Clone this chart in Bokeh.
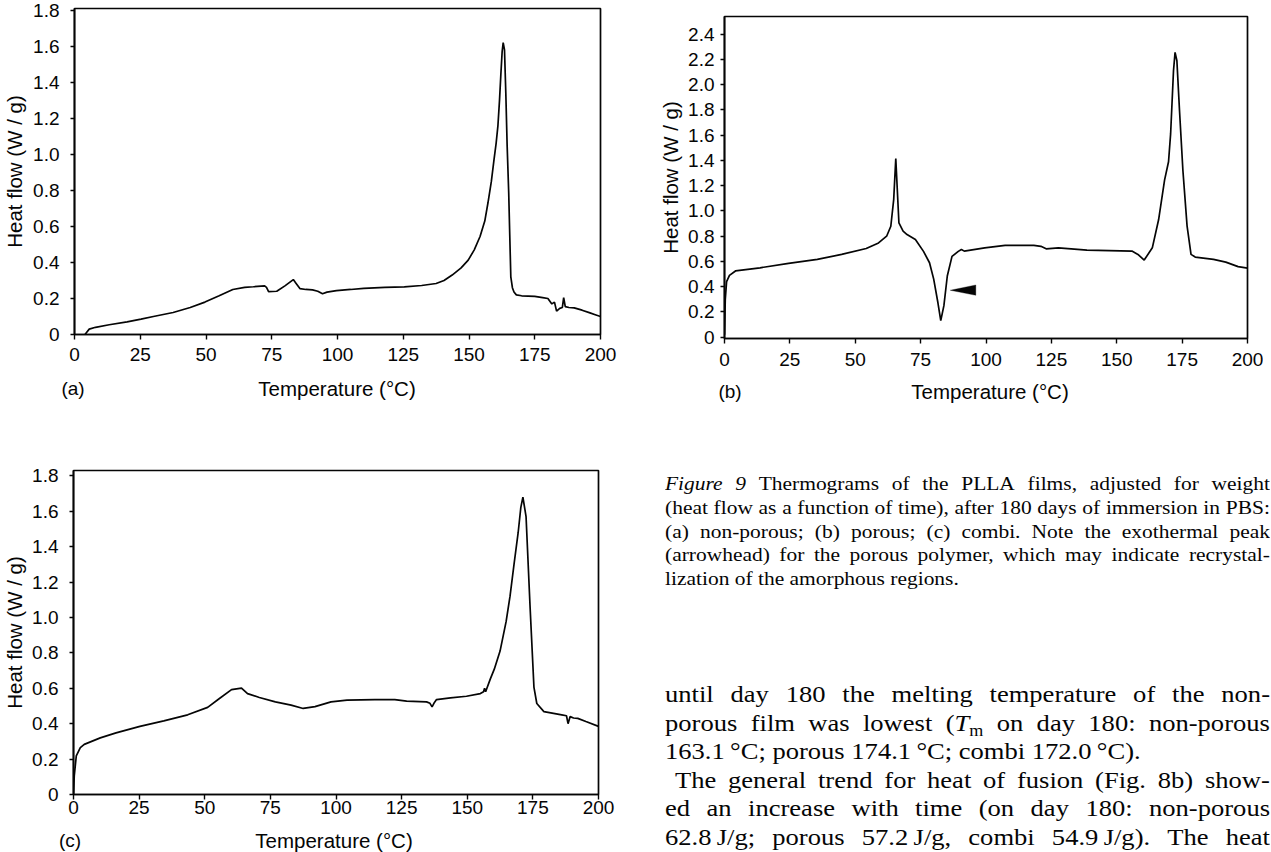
from bokeh.plotting import figure
from bokeh.models import FixedTicker, PolyAnnotation, Div, Range1d
from bokeh.layouts import column, row
from bokeh.embed import file_html
from bokeh.resources import INLINE

# ---------------- data ----------------
temp_ticks = [0, 25, 50, 75, 100, 125, 150, 175, 200]
flow_ticks_ac = [0, 0.2, 0.4, 0.6, 0.8, 1.0, 1.2, 1.4, 1.6, 1.8]
flow_labels_ac = ["0", "0.2", "0.4", "0.6", "0.8", "1.0", "1.2", "1.4", "1.6", "1.8"]
flow_ticks_b = [0, 0.2, 0.4, 0.6, 0.8, 1.0, 1.2, 1.4, 1.6, 1.8, 2.0, 2.2, 2.4]
flow_labels_b = ["0", "0.2", "0.4", "0.6", "0.8", "1.0", "1.2", "1.4", "1.6", "1.8", "2.0", "2.2", "2.4"]

# (a) non-porous
temp_a = [4.0, 4.5, 5.6, 8, 13.2, 20, 25.3, 30, 37.5, 44, 49.6, 55, 60.2, 64.7, 68, 72.3, 73.0,
          73.8, 76.9, 80, 83.2, 84.2, 85.7, 88, 90.5, 92.5, 94.3, 96, 99.6, 105, 110, 118, 125.4,
          132, 137.5, 140.5, 143.6, 147, 149.7, 152, 154.2, 156, 157.2, 158.5, 159.5, 160.3, 161,
          161.6, 162.1, 162.6, 163.0, 163.5, 164, 164.5, 165.1, 165.5, 165.9, 166.5, 167.1, 168,
          170, 175, 178, 180, 181.5, 182.5, 183.3, 184.5, 185.5, 186.0, 186.6, 188, 190, 193, 196,
          198, 200]
flow_a = [0, 0.01, 0.03, 0.04, 0.054, 0.07, 0.085, 0.1, 0.122, 0.15, 0.18, 0.215, 0.25, 0.262,
          0.265, 0.27, 0.262, 0.238, 0.24, 0.27, 0.305, 0.285, 0.255, 0.25, 0.248, 0.24, 0.226,
          0.235, 0.244, 0.25, 0.256, 0.262, 0.264, 0.272, 0.283, 0.3, 0.33, 0.37, 0.413, 0.47,
          0.544, 0.63, 0.73, 0.85, 0.97, 1.06, 1.16, 1.3, 1.44, 1.57, 1.62, 1.58, 1.34, 1.05,
          0.786, 0.55, 0.32, 0.26, 0.236, 0.22, 0.215, 0.212, 0.205, 0.2, 0.17, 0.18, 0.13, 0.145,
          0.15, 0.205, 0.155, 0.15, 0.148, 0.135, 0.12, 0.11, 0.1]

# (b) porous
temp_b = [0, 0.3, 0.8, 1.9, 4.2, 13.6, 24.5, 35.5, 44.8, 54.2, 58.9, 62, 63.6, 64.7, 65.5, 66.7,
          68.3, 69.8, 73, 76.1, 78.4, 80, 81.6, 82.7, 83.9, 85.2, 87, 89.4, 90.6, 91.7, 99.5,
          107.3, 118.3, 121, 123, 127.7, 138.6, 155.8, 158.1, 160.5, 163.6, 166, 168.3, 169.8,
          170.6, 171.7, 172.3, 173, 174, 175.3, 176.9, 178.4, 180, 187, 191.7, 196.4, 200]
flow_b = [0.02, 0.3, 0.44, 0.49, 0.525, 0.55, 0.585, 0.616, 0.656, 0.703, 0.747, 0.8, 0.879, 1.09,
          1.416, 0.905, 0.84, 0.813, 0.774, 0.68, 0.59, 0.46, 0.275, 0.131, 0.25, 0.485, 0.64,
          0.68, 0.695, 0.682, 0.708, 0.727, 0.727, 0.72, 0.7, 0.708, 0.69, 0.682, 0.656, 0.611,
          0.708, 0.93, 1.246, 1.39, 1.61, 2.11, 2.256, 2.19, 1.795, 1.32, 0.88, 0.656, 0.635,
          0.616, 0.595, 0.559, 0.548]

# (c) combi
temp_c = [0, 0.3, 1.06, 2.6, 4.1, 10.2, 16.2, 25.3, 34.4, 43.5, 51.1, 55.6, 60.2, 64, 66.3, 70.8,
          76.9, 82.9, 87.5, 92, 98.1, 104.2, 114.8, 122.4, 126.9, 134.5, 135.8, 136.6, 137.5,
          138.3, 143.6, 149.7, 155, 156.2, 156.6, 157, 158.8, 160.3, 162.5, 164.8, 166.3, 167.9,
          169.4, 170.4, 171.2, 172.4, 173.9, 175.4, 176.5, 179.2, 186, 187.8, 188.4, 189.2, 190.5,
          192.1, 195.2, 200]
flow_c = [0.005, 0.107, 0.218, 0.265, 0.283, 0.32, 0.348, 0.385, 0.416, 0.45, 0.492, 0.542, 0.592,
          0.601, 0.57, 0.548, 0.523, 0.505, 0.486, 0.496, 0.523, 0.533, 0.536, 0.536, 0.527, 0.523,
          0.515, 0.495, 0.52, 0.536, 0.546, 0.555, 0.57, 0.58, 0.6, 0.58, 0.653, 0.708, 0.81, 0.976,
          1.12, 1.31, 1.48, 1.62, 1.68, 1.57, 1.07, 0.607, 0.514, 0.468, 0.45, 0.445, 0.4, 0.44,
          0.432, 0.43, 0.412, 0.385]

# arrowhead marking the exothermal peak in (b)
arrow_xs = [86.3, 96.1, 96.1]
arrow_ys = [0.372, 0.414, 0.332]

panel_tags = ["(a)", "(b)", "(c)"]
x_title = "Temperature (°C)"
y_title = "Heat flow (W / g)"

caption_lines = [
    ["<i>Figure</i>", "<i>9</i>", "Thermograms", "of", "the", "PLLA", "films,", "adjusted", "for", "weight"],
    ["(heat", "flow", "as", "a", "function", "of", "time),", "after", "180", "days", "of", "immersion", "in", "PBS:"],
    ["(a)", "non-porous;", "(b)", "porous;", "(c)", "combi.", "Note", "the", "exothermal", "peak"],
    ["(arrowhead)", "for", "the", "porous", "polymer,", "which", "may", "indicate", "recrystal-"],
    ["lization", "of", "the", "amorphous", "regions."],
]
caption_justify = [True, True, True, True, False]

body_lines = [
    ["until", "day", "180", "the", "melting", "temperature", "of", "the", "non-"],
    ["porous", "film", "was", "lowest", "(<i>T</i><sub style='font-size:0.68em;vertical-align:-0.3em'>m</sub>",
     "on", "day", "180:", "non-porous"],
    ["163.1&#8201;°C;", "porous", "174.1&#8201;°C;", "combi", "172.0&#8201;°C)."],
    ["The", "general", "trend", "for", "heat", "of", "fusion", "(Fig.", "8b)", "show-"],
    ["ed", "an", "increase", "with", "time", "(on", "day", "180:", "non-porous"],
    ["62.8&#8201;J/g;", "porous", "57.2&#8201;J/g,", "combi", "54.9&#8201;J/g).", "The", "heat"],
]
body_justify = [True, True, False, True, True, True]
body_indent = [0, 0, 0, 10, 0, 0]

# ---------------- styling helpers ----------------
SANS = "Liberation Sans"
INK = "#050505"


def make_panel(width, height, b_left, b_right, b_top, b_bottom, y_start, y_end,
               yticks, ylabels, ylab_standoff, ytitle_standoff, xlab_standoff):
    p = figure(width=width, height=height, x_range=Range1d(0, 200), y_range=Range1d(y_start, y_end),
               output_backend="svg", toolbar_location=None, title=None,
               min_border_left=b_left, min_border_right=b_right,
               min_border_top=b_top, min_border_bottom=b_bottom)
    p.xgrid.visible = False
    p.ygrid.visible = False
    p.background_fill_color = "white"
    p.border_fill_color = "white"
    p.outline_line_color = INK
    p.outline_line_width = 1.7
    p.outline_line_alpha = 1.0

    p.xaxis.ticker = FixedTicker(ticks=temp_ticks)
    p.yaxis.ticker = FixedTicker(ticks=yticks)
    p.yaxis.major_label_overrides = {t: l for t, l in zip(yticks, ylabels)}
    for ax in (p.xaxis[0], p.yaxis[0]):
        ax.axis_line_color = INK
        ax.axis_line_width = 1.7
        ax.major_tick_line_color = INK
        ax.major_tick_line_width = 1.4
        ax.major_tick_in = 0
        ax.minor_tick_line_color = None
        ax.major_label_text_font = SANS
        ax.major_label_text_font_size = "19px"
        ax.major_label_text_color = INK
        ax.axis_label_text_font = SANS
        ax.axis_label_text_font_size = "20.5px"
        ax.axis_label_text_font_style = "normal"
        ax.axis_label_text_color = INK
    p.xaxis.major_tick_out = 5
    p.yaxis.major_tick_out = 4
    p.yaxis.axis_label = y_title
    p.yaxis.major_label_standoff = ylab_standoff
    p.yaxis.axis_label_standoff = ytitle_standoff
    p.xaxis.major_label_standoff = xlab_standoff
    return p


def title_row(width, height, tag_text, tag_x, title_x, cy):
    """HTML strip under a panel: panel tag at the left, x-axis title centred under the frame."""
    html = (f'<div style="position:relative;width:{width}px;height:{height}px;'
            f"font-family:'{SANS}',Arial,sans-serif;color:{INK};\">"
            f'<div style="position:absolute;left:{tag_x}px;top:{cy}px;transform:translate(-50%,-50%);'
            f'font-size:19px;line-height:22px;white-space:nowrap;">{tag_text}</div>'
            f'<div style="position:absolute;left:{title_x}px;top:{cy}px;transform:translate(-50%,-50%);'
            f'font-size:20.5px;line-height:24px;white-space:nowrap;">{x_title}</div></div>')
    return Div(text=html, width=width, height=height)


# ---------------- panel (a) ----------------
pa = make_panel(620, 372, 72, 20, 8, 38, 0, 1.81, flow_ticks_ac, flow_labels_ac, 11, 4, 8)
pa.line(temp_a, flow_a, line_color=INK, line_width=1.7)
ta = title_row(620, 33, panel_tags[0], 68, 332, 12)

# ---------------- panel (b) ----------------
pb = make_panel(633, 378, 94, 16, 16, 40, -0.01, 2.54, flow_ticks_b, flow_labels_b, 6, 3, 9)
pb.line(temp_b, flow_b, line_color=INK, line_width=1.7)
pb.add_layout(PolyAnnotation(xs=arrow_xs, ys=arrow_ys, fill_color=INK, fill_alpha=1.0,
                             line_color=INK, line_width=1))
tb = title_row(633, 27, panel_tags[1], 95, 355, 9)

# ---------------- panel (c) ----------------
pc = make_panel(650, 409, 69, 52, 55, 30, 0, 1.83, flow_ticks_ac, flow_labels_ac, 11, 3, 1)
pc.line(temp_c, flow_c, line_color=INK, line_width=1.7)
tc = title_row(650, 22, panel_tags[2], 65, 329, 12)

# ---------------- text block ----------------
TEXT_W = 605
TEXT_H = 431


def text_line(words, top, size, lh, scale, justify, indent=0):
    inner_w = TEXT_W / scale
    if justify:
        content = "".join(f"<span>{w}</span>" for w in words)
        disp = "display:flex;justify-content:space-between;"
    else:
        content = " ".join(words)
        disp = ""
    return (f'<div style="position:absolute;left:0;top:{top:.1f}px;width:{inner_w:.1f}px;'
            f'height:{lh}px;line-height:{lh}px;font-size:{size}px;white-space:nowrap;'
            f'padding-left:{indent / scale:.1f}px;box-sizing:border-box;'
            f'transform:scaleX({scale});transform-origin:0 0;{disp}">{content}</div>')


parts = []
for i, (ws, j) in enumerate(zip(caption_lines, caption_justify)):
    parts.append(text_line(ws, 52 + i * 23.75, 18.5, 24, 1.16, j))
for i, (ws, j, ind) in enumerate(zip(body_lines, body_justify, body_indent)):
    parts.append(text_line(ws, 260 + i * 28.5, 23.5, 28, 1.13, j, ind))

html = (f'<div style="position:relative;width:{TEXT_W}px;height:{TEXT_H}px;overflow:hidden;'
        f"font-family:'Liberation Serif','Times New Roman',serif;color:{INK};\">"
        + "".join(parts) + "</div>")
txt = Div(text=html, width=TEXT_W, height=TEXT_H)

layout = column(row(column(pa, ta), column(pb, tb)), row(column(pc, tc), txt))

open("out.html", "w").write(file_html(layout, INLINE))
